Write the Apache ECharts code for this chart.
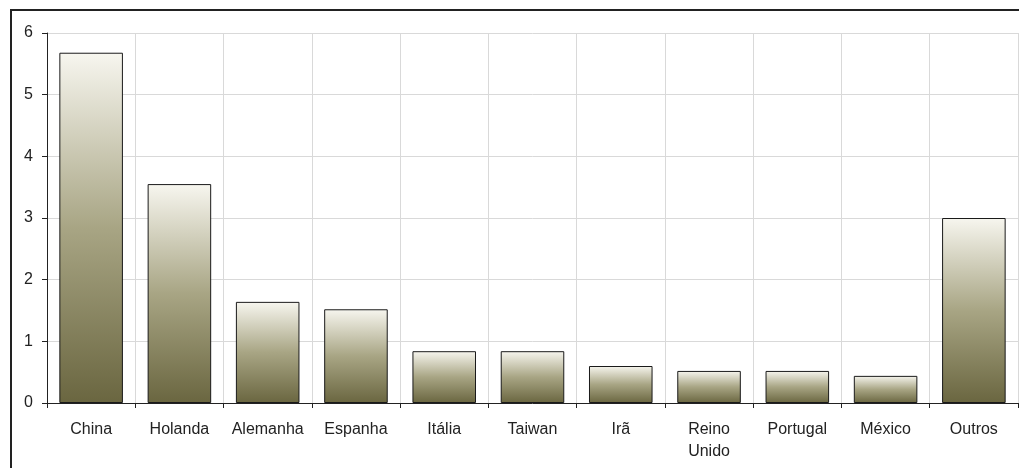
<!DOCTYPE html>
<html>
<head>
<meta charset="utf-8">
<script src="https://cdn.jsdelivr.net/npm/echarts@6/dist/echarts.min.js"></script>
<style>html,body{margin:0;padding:0;background:#fff}#c{width:1019px;height:468px}</style>
</head>
<body>
<div id="c"></div>
<script>
const categories = ['China','Holanda','Alemanha','Espanha','Itália','Taiwan','Irã','Reino\nUnido','Portugal','México','Outros'];
const values = [5.68, 3.55, 1.64, 1.52, 0.84, 0.84, 0.60, 0.52, 0.52, 0.44, 3.0];
const yTicks = [0, 1, 2, 3, 4, 5, 6];

const chart = echarts.init(document.getElementById('c'));
chart.setOption({
  animation: false,
  backgroundColor: '#fff',
  grid: { left: 47, right: 1, top: 33, bottom: 65, containLabel: false },
  xAxis: {
    type: 'category',
    data: categories,
    axisLine: { lineStyle: { color: '#222', width: 1 } },
    axisTick: { show: true, length: 5, lineStyle: { color: '#222' } },
    axisLabel: { color: '#222', fontFamily: 'Liberation Sans', fontSize: 16, margin: 16, lineHeight: 22, interval: 0 },
    splitLine: { show: true, lineStyle: { color: '#d9d9d9', width: 1 } }
  },
  yAxis: {
    type: 'value',
    min: yTicks[0], max: yTicks[yTicks.length-1], interval: 1,
    axisLine: { show: true, lineStyle: { color: '#222', width: 1 } },
    axisTick: { show: true, length: 5, lineStyle: { color: '#222' } },
    axisLabel: { color: '#222', fontFamily: 'Liberation Sans', fontSize: 16, margin: 14 },
    splitLine: { show: true, lineStyle: { color: '#d9d9d9', width: 1 } }
  },
  series: [{
    type: 'bar',
    data: values,
    barWidth: '72%',
    itemStyle: {
      borderColor: '#1a1a1a',
      borderWidth: 1,
      color: new echarts.graphic.LinearGradient(0, 0, 0, 1, [
        { offset: 0, color: '#f7f6ef' },
        { offset: 0.5, color: '#a8a584' },
        { offset: 1, color: '#6a6640' }
      ])
    }
  }],
  graphic: [
    { type: 'line', shape: { x1: 10, y1: 10, x2: 1019, y2: 10 }, style: { stroke: '#222', lineWidth: 2 } },
    { type: 'line', shape: { x1: 11, y1: 9, x2: 11, y2: 468 }, style: { stroke: '#222', lineWidth: 2 } }
  ]
});
</script>
</body>
</html>
